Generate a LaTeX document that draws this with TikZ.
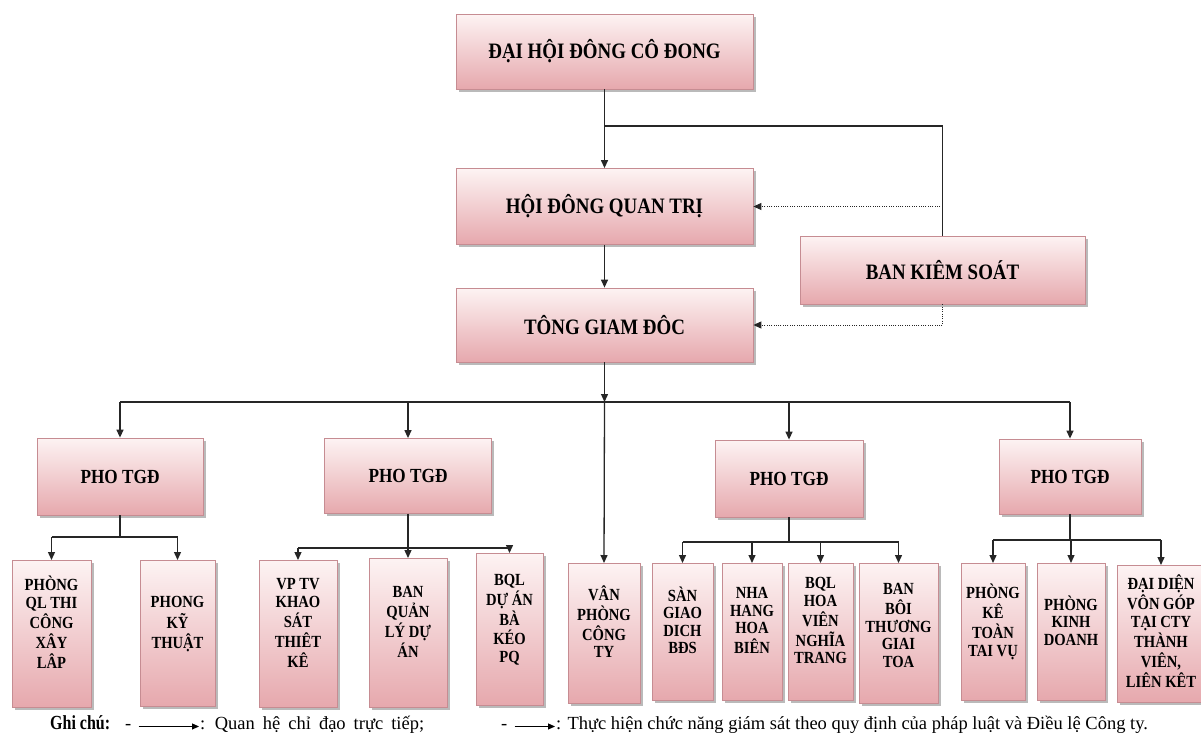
\documentclass[tikz,border=0pt]{standalone}
\usepackage{fontspec}
\setmainfont{Liberation Serif}
\newfontfamily\boxfont[FakeStretch=0.86]{Liberation Serif}
\newfontfamily\notefont[FakeStretch=0.8]{Liberation Serif}
\usetikzlibrary{arrows.meta,shadows}
\setlength{\tabcolsep}{2pt}

\definecolor{boxtop}{RGB}{253,243,243}
\definecolor{boxbot}{RGB}{230,168,173}
\definecolor{boxline}{RGB}{198,140,146}

\tikzset{
  unit/.style={draw=boxline, line width=0.8pt, top color=boxtop, bottom color=boxbot,
    drop shadow={shadow xshift=2.5pt, shadow yshift=-2.5pt, fill=black!45, opacity=0.6},
    font=\boxfont\fontsize{22}{24}\selectfont\bfseries, inner sep=2pt},
  deputy/.style={unit, font=\boxfont\fontsize{20}{22}\selectfont\bfseries},
  dept/.style={unit, anchor=north, font=\boxfont\fontsize{17}{17.5}\selectfont\bfseries},
  link/.style={line width=1.3pt, draw=black!85},
  watch/.style={line width=1pt, draw=black!85, dash pattern=on 1pt off 1.3pt},
  legend/.style={anchor=base west, inner sep=1pt, font=\fontsize{18.5}{20}\selectfont},
}

\begin{document}
\begin{tikzpicture}[x=1pt, y=-1pt, >={Triangle[length=8pt, width=7pt]}]
\path[fill=white, use as bounding box] (0,0) rectangle (1201,744);

% top level
\node[unit, minimum width=297pt, minimum height=75pt] (dhcd) at (604.5,51.5) {ĐẠI HỘI ĐÔNG CÔ ĐONG};
\node[unit, minimum width=297pt, minimum height=76pt] (hdqt) at (604.5,206.5) {HỘI ĐÔNG QUAN TRỊ};
\node[unit, minimum width=297pt, minimum height=74pt] (tgd) at (604.5,325) {TÔNG GIAM ĐÔC};
\node[unit, minimum width=285pt, minimum height=68pt] (bks) at (942.5,270) {BAN KIÊM SOÁT};

% deputies
\node[deputy, minimum width=166pt, minimum height=77pt] (pho1) at (120,476.5) {PHO TGĐ};
\node[deputy, minimum width=167pt, minimum height=75pt] (pho2) at (408,476) {PHO TGĐ};
\node[deputy, minimum width=148pt, minimum height=77pt] (pho3) at (789,478.5) {PHO TGĐ};
\node[deputy, minimum width=142pt, minimum height=75pt] (pho4) at (1070,476.5) {PHO TGĐ};

% departments
\node[dept, minimum width=79pt, minimum height=147pt] (sA) at (51.5,560) {\begin{tabular}{c}PHÒNG\\QL THI\\CÔNG\\XÂY\\LÂP\\[18pt]\end{tabular}};
\node[dept, minimum width=75pt, minimum height=146pt] (sB) at (177.5,560) {\begin{tabular}{c}PHONG\\KỸ\\THUẬT\\[18pt]\end{tabular}};
\node[dept, minimum width=78pt, minimum height=147pt] (sC) at (298,560) {\begin{tabular}{c}VP TV\\KHAO\\SÁT\\THIÊT\\KÊ\\[18pt]\end{tabular}};
\node[dept, minimum width=78pt, minimum height=149pt] (sD) at (408,558) {\begin{tabular}{c}BAN\\QUẢN\\LÝ DỰ\\ÁN\\[18pt]\end{tabular}};
\node[dept, minimum width=67pt, minimum height=152pt] (sE) at (509.5,553) {\begin{tabular}{c}BQL\\DỰ ÁN\\BÀ\\KÉO\\PQ\\[18pt]\end{tabular}};
\node[dept, minimum width=72pt, minimum height=140pt] (sVP) at (604,563) {\begin{tabular}{c}VÂN\\PHÒNG\\CÔNG\\TY\\[18pt]\end{tabular}};
\node[dept, minimum width=61pt, minimum height=137pt] (sF) at (682.5,563) {\begin{tabular}{c}SÀN\\GIAO\\DICH\\BĐS\\[18pt]\end{tabular}};
\node[dept, minimum width=60pt, minimum height=137pt] (sG) at (752,563) {\begin{tabular}{c}NHA\\HANG\\HOA\\BIÊN\\[18pt]\end{tabular}};
\node[dept, minimum width=65pt, minimum height=137pt] (sH) at (820.5,563) {\begin{tabular}{c}BQL\\HOA\\VIÊN\\NGHĨA\\TRANG\\[18pt]\end{tabular}};
\node[dept, minimum width=79pt, minimum height=140pt] (sI) at (898.5,563) {\begin{tabular}{c}BAN\\BÔI\\THƯƠNG\\GIAI\\TOA\\[12pt]\end{tabular}};
\node[dept, minimum width=64pt, minimum height=137pt] (sJ) at (993,563) {\begin{tabular}{c}PHÒNG\\KÊ\\TOÀN\\TAI VỤ\\[18pt]\end{tabular}};
\node[dept, minimum width=68pt, minimum height=137pt] (sK) at (1071,563) {\begin{tabular}{c}PHÒNG\\KINH\\DOANH\\[18pt]\end{tabular}};
\node[dept, minimum width=88pt, minimum height=137pt] (sL) at (1161,565) {\begin{tabular}{c}ĐẠI DIỆN\\VÔN GÓP\\TẠI CTY\\THÀNH\\VIÊN,\\LIÊN KÊT\end{tabular}};

% top connectors
\coordinate (split) at (604.5,126);
\draw[link,->] (dhcd.south) -- (hdqt.north);
\draw[link] (split) -| (bks.north);
\draw[watch,->] (bks.north |- hdqt.east) -- (hdqt.east);
\draw[watch,->] (bks.south) |- (tgd.east);
\draw[link,->] (hdqt.south) -- (tgd.north);

% main bus
\coordinate (bus) at (604.5,402);
\draw[link,->] (tgd.south) -- (bus);
\draw[link] (bus -| pho1.north) -- (bus -| pho4.north);
\foreach \p in {pho1,pho2,pho3,pho4}
  \draw[link,->] (bus -| \p.north) -- (\p.north);
\draw[link,->] (bus) -- (sVP.north);

% groups
\coordinate (j1) at (120,537);
\coordinate (j2) at (408,548);
\coordinate (j3) at (789,542);
\coordinate (j4) at (1070,540);
\draw[link] (pho1.south) -- (j1);
\draw[link] (pho2.south) -- (j2);
\draw[link] (pho3.south) -- (j3);
\draw[link] (pho4.south) -- (j4);
\draw[link] (j1 -| sA.north) -- (j1 -| sB.north);
\draw[link] (j2 -| sC.north) -- (j2 -| sE.north);
\draw[link] (j3 -| sF.north) -- (j3 -| sI.north);
\draw[link] (j4 -| sJ.north) -- (j4 -| sL.north);
\foreach \s in {sA,sB}
  \draw[link,->] (j1 -| \s.north) -- (\s.north);
\foreach \s in {sC,sD,sE}
  \draw[link,->] (j2 -| \s.north) -- (\s.north);
\foreach \s in {sF,sG,sH,sI}
  \draw[link,->] (j3 -| \s.north) -- (\s.north);
\foreach \s in {sJ,sK,sL}
  \draw[link,->] (j4 -| \s.north) -- (\s.north);

% legend
\node[legend, font=\notefont\fontsize{20}{22}\selectfont\bfseries] (note) at (49,729) {Ghi chú:};
\node[legend] (dash1) at (124,729) {-};
\node[legend] (lg1) at (199,729) {\spaceskip=8pt plus 1pt : Quan hệ chỉ đạo trực tiếp;};
\node[legend] (dash2) at (500,729) {-};
\node[legend] (lg2) at (555,729) {: Thực hiện chức năng giám sát theo quy định của pháp luật và Điều lệ Công ty.};
\draw[line width=1pt, ->, >={Triangle[length=7pt, width=6pt]}] ([xshift=6pt]dash1.east) -- (dash1.east -| lg1.west);
\draw[line width=1pt, ->, >={Triangle[length=7pt, width=6pt]}] ([xshift=6pt]dash2.east) -- (dash2.east -| lg2.west);
\end{tikzpicture}
\end{document}
